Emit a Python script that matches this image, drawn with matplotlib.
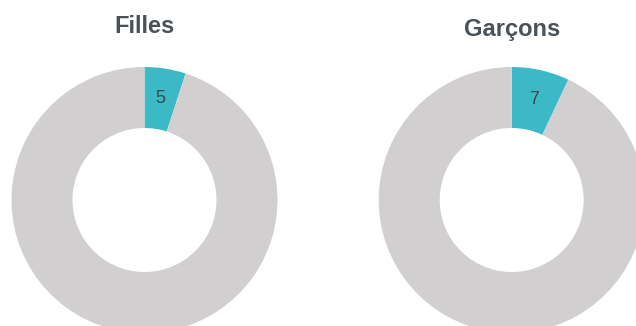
import numpy as np
import matplotlib

matplotlib.use("Agg")
import matplotlib.pyplot as plt

# share of each group, out of 100
groups = ["Filles", "Garçons"]
shares = [5, 7]
total = 100

TEAL = "#3bbac6"
GREY = "#d1cfd0"
TEXT = "#4a5157"

W, H = 636, 326
fig = plt.figure(figsize=(W / 100, H / 100), dpi=100)
ax = fig.add_axes([0, 0, 1, 1])

outer, ring = 133, 61
centers = [(144.5, H - 200), (511.7, H - 200)]
title_base = [33, 36]

for name, share, center, base in zip(groups, shares, centers, title_base):
    wedges, _ = ax.pie(
        [share, total - share],
        colors=[TEAL, GREY],
        startangle=90,
        counterclock=False,
        radius=outer,
        center=center,
        frame=True,
        wedgeprops=dict(width=ring, linewidth=0),
    )
    # value label sits in the middle of the ring, halfway through the wedge
    w = wedges[0]
    mid = np.deg2rad((w.theta1 + w.theta2) / 2)
    r_lab = outer - ring / 2
    ax.text(
        center[0] + r_lab * np.cos(mid),
        center[1] + r_lab * np.sin(mid),
        str(share),
        ha="center",
        va="center",
        fontsize=13,
        color="#3d474c",
        family=["Liberation Sans", "DejaVu Sans"],
    )
    fig.text(
        center[0] / W,
        1 - base / H,
        name,
        ha="center",
        va="baseline",
        fontsize=17,
        fontweight="bold",
        color=TEXT,
        family=["Liberation Sans", "DejaVu Sans"],
    )

ax.set_xlim(0, W)
ax.set_ylim(0, H)
ax.set_aspect("auto")
ax.axis("off")
fig.savefig("out.png", dpi=100)
